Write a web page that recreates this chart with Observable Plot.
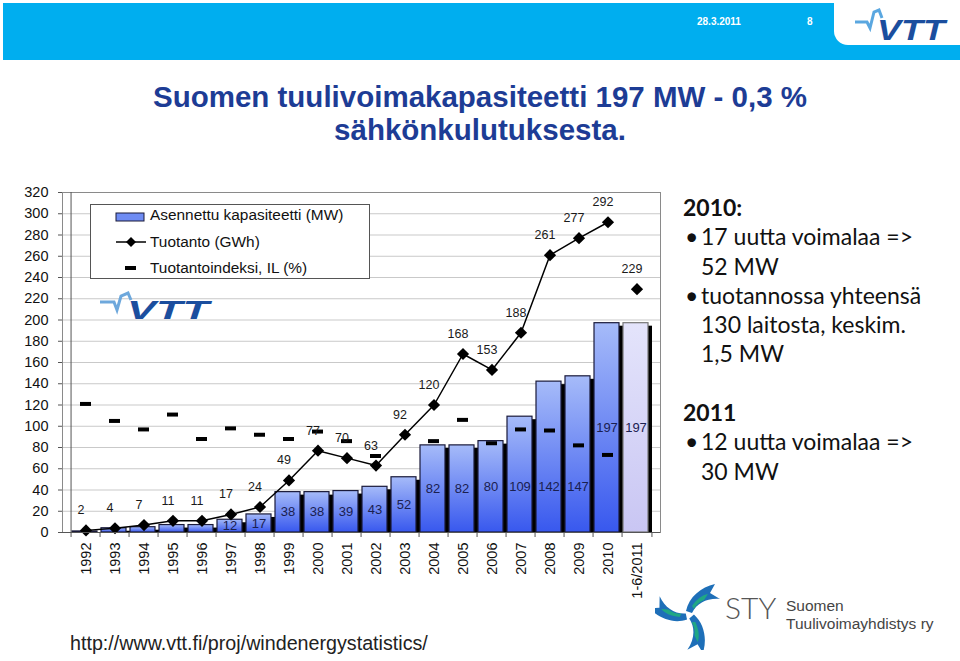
<!DOCTYPE html>
<html><head><meta charset="utf-8">
<script src="https://cdn.jsdelivr.net/npm/d3@7"></script>
<script src="https://cdn.jsdelivr.net/npm/@observablehq/plot@0.6"></script>
<style>
html,body{margin:0;padding:0;background:#fff;}
body{width:960px;height:661px;position:relative;overflow:hidden;font-family:"Liberation Sans",Arial,sans-serif;}
.abs{position:absolute;}
#hdr{left:3px;top:3px;width:957px;height:57px;background:#00aeef;}
#tab{left:834px;top:0;width:126px;height:45px;background:#fff;border-bottom-left-radius:14px;}
#title{left:0;top:80px;width:960px;text-align:center;font-weight:bold;font-size:29.5px;line-height:33px;color:#1d3c95;}
#legend{left:90px;top:204px;width:278px;height:73px;border:1px solid #555;background:#fff;font-size:15.4px;color:#111;}
#legend .row{position:absolute;left:59px;white-space:nowrap;}
#notes{left:683px;top:193px;font-family:Lato,"Open Sans",sans-serif;font-size:23px;line-height:29.3px;color:#111;white-space:nowrap;}
#notes .b{position:relative;padding-left:18px;}
#notes .b::before{content:"•";position:absolute;left:2px;}
#url{left:70px;top:632px;font-size:19.7px;color:#222;white-space:nowrap;}
.sty{position:absolute;left:786px;font-family:'Liberation Sans',Arial,sans-serif;font-size:15.5px;line-height:17px;color:#444;white-space:nowrap;}
</style></head>
<body>
<div id="hdr" class="abs"></div>
<div id="tab" class="abs"></div>
<div class="abs" style="left:697px;top:16px;color:#fff;font-weight:bold;font-size:10px;">28.3.2011</div>
<div class="abs" style="left:807px;top:16px;color:#fff;font-weight:bold;font-size:10px;">8</div>
<svg class="abs" style="left:855px;top:8px" width="100" height="38">
  <path d="M0,14 L12,14 L15,20 L19,4 L24,2 L27,10" fill="none" stroke="#5aa7e0" stroke-width="3"/>
  <text x="22" y="32" font-family="Liberation Sans,Arial" font-weight="bold" font-style="italic" font-size="29" fill="#1b4e9e" textLength="68" lengthAdjust="spacingAndGlyphs">VTT</text>
</svg>
<div id="title" class="abs">Suomen tuulivoimakapasiteetti 197 MW - 0,3 %<br>sähkönkulutuksesta.</div>
<div id="chart" class="abs" style="left:0;top:170px;"></div>
<div id="legend" class="abs">
  <svg class="abs" style="left:24px;top:6px" width="34" height="70">
    <rect x="1" y="2" width="28" height="8" fill="#6f8cf3" stroke="#1a1a3a" stroke-width="1"/>
    <line x1="1" y1="31" x2="31" y2="31" stroke="#000" stroke-width="1.5"/>
    <path d="M16,26 L21,31 L16,36 L11,31 Z" fill="#000"/>
    <line x1="10" y1="57" x2="21" y2="57" stroke="#000" stroke-width="4"/>
  </svg>
  <div class="row" style="top:1px">Asennettu kapasiteetti (MW)</div>
  <div class="row" style="top:28px">Tuotanto (GWh)</div>
  <div class="row" style="top:54px">Tuotantoindeksi, IL (%)</div>
</div>
<svg class="abs" style="left:100px;top:288px" width="120" height="36">
  <path d="M0,14 L14,14 L17,22 L21,8 L28,5 L31,12" fill="none" stroke="#6ea8dc" stroke-width="3"/>
  <text x="27" y="31" font-family="Liberation Sans,Arial" font-weight="bold" font-style="italic" font-size="26" fill="#1b4e9e" textLength="82" lengthAdjust="spacingAndGlyphs">VTT</text>
</svg>
<div id="notes" class="abs">
  <div style="font-weight:bold">2010:</div>
  <div class="b">17 uutta voimalaa =&gt;<br>52 MW</div>
  <div class="b">tuotannossa yhteensä<br>130 laitosta, keskim.<br>1,5 MW</div>
  <div>&nbsp;</div>
  <div style="font-weight:bold">2011</div>
  <div class="b">12 uutta voimalaa =&gt;<br>30 MW</div>
</div>
<div id="url" class="abs">http://www.vtt.fi/proj/windenergystatistics/</div>
<svg class="abs" style="left:655px;top:580px" width="70" height="70">
  <g transform="translate(34,35)">
    <g><path d="M-3,-4 C0,-18 12,-28 26,-31 L21,-22 L31,-16 C18,-17 8,-12 3,-2 Z" fill="#1e6fb8"/><path d="M3,-9 C8,-16 13,-20 19,-21 L15,-15 C10,-13 7,-10 5,-6 Z" fill="#1fa784"/></g>
    <g transform="rotate(120)"><path d="M-3,-4 C0,-18 12,-28 26,-31 L21,-22 L31,-16 C18,-17 8,-12 3,-2 Z" fill="#1e6fb8"/><path d="M3,-9 C8,-16 13,-20 19,-21 L15,-15 C10,-13 7,-10 5,-6 Z" fill="#1fa784"/></g>
    <g transform="rotate(240)"><path d="M-3,-4 C0,-18 12,-28 26,-31 L21,-22 L31,-16 C18,-17 8,-12 3,-2 Z" fill="#1e6fb8"/><path d="M3,-9 C8,-16 13,-20 19,-21 L15,-15 C10,-13 7,-10 5,-6 Z" fill="#1fa784"/></g>
  </g>
</svg>
<div class="abs" style="left:725px;top:589px;font-family:Lato,'Open Sans',sans-serif;font-weight:300;font-size:30px;line-height:36px;color:#555;">STY</div>
<div class="sty" style="top:597px;">Suomen</div>
<div class="sty" style="top:615px;">Tuulivoimayhdistys ry</div>

<script>
const years = ["1992","1993","1994","1995","1996","1997","1998","1999","2000","2001","2002","2003","2004","2005","2006","2007","2008","2009","2010","1-6/2011"];
const capacity = [1,4,5,7,7,12,17,38,38,39,43,52,82,82,86,109,142,147,197,197];
const capacityLabels = [null,null,null,null,null,"12","17","38","38","39","43","52","82","82","80","109","142","147","197","197"];
const production = [2,4,7,11,11,17,24,49,77,70,63,92,120,168,153,188,261,277,292,229];
const productionIndex = [121,105,97,111,88,98,92,88,95,86,72,null,86,106,84,97,96,82,73,null];
const yTicks = d3.range(0, 321, 20);

const rows = years.map((year, i) => ({year, cap: capacity[i], capLabel: capacityLabels[i], prod: production[i], idx: productionIndex[i], partial: i === years.length - 1}));
const full = rows.filter(d => !d.partial);
const part = rows.filter(d => d.partial);
const bw = (670 - 62 - 10) / years.length;

const chart = Plot.plot({
  width: 670, height: 440,
  marginTop: 22, marginBottom: 78, marginLeft: 62, marginRight: 10,
  style: {fontFamily: "'Liberation Sans', Arial, sans-serif", fontSize: "14px", color: "#111", background: "transparent"},
  x: {type: "band", domain: years, padding: 0, label: null},
  y: {domain: [0, 320], label: null},
  marks: [
    Plot.gridY(yTicks, {stroke: "#c9c9c9", strokeOpacity: 1}),
    Plot.frame({stroke: "#8a8a8a"}),
    Plot.barY(rows, {x: "year", y: "cap", fill: "#000", dx: 4, insetTop: 3, insetLeft: 1, insetRight: 3}),
    Plot.barY(full, {x: "year", y: "cap", fill: "url(#barGrad)", stroke: "#1a1a3a", strokeWidth: 1.2, insetLeft: 1, insetRight: 3}),
    Plot.barY(part, {x: "year", y: "cap", fill: "url(#barGrad2)", stroke: "#777", strokeWidth: 1.2, insetLeft: 1, insetRight: 3}),
    Plot.text(rows.filter(d => d.capLabel), {x: "year", y: d => d.cap >= 190 ? d.cap / 2 : Math.min(d.cap / 2, 43), text: "capLabel", fill: "#1a2050", fontSize: 13, dx: -1}),
    Plot.tickY(rows.filter(d => d.idx != null), {x: "year", y: "idx", stroke: "#000", strokeWidth: 4, insetLeft: 9, insetRight: 9}),
    Plot.line(full, {x: "year", y: "prod", stroke: "#000", strokeWidth: 1.5}),
    Plot.dot(rows, {x: "year", y: "prod", symbol: "diamond2", r: 5.5, fill: "#000", stroke: null}),
    Plot.text(rows, {x: "year", y: "prod", text: d => String(d.prod), dy: -20, dx: -5, fill: "#1a1a1a", fontSize: 12.5}),
    Plot.ruleX([years[0]], {dx: -bw / 2, stroke: "#555"}),
    Plot.ruleY([0], {stroke: "#555"}),
    Plot.axisY(yTicks, {tickSize: 4, tickPadding: 10, fontSize: 14.5, stroke: "#555", fill: "#111", label: null}),
    Plot.axisX({tickSize: 5, text: null, dx: -bw / 2, stroke: "#555", label: null}),
    Plot.axisX([years[years.length - 1]], {tickSize: 5, text: null, dx: bw / 2, stroke: "#555", label: null}),
    Plot.axisX({tickSize: 0, tickPadding: 10, tickRotate: -90, fontSize: 14.5, fill: "#111", label: null})
  ]
});

const defs = d3.select(chart).insert("defs", ":first-child");
const g1 = defs.append("linearGradient").attr("id", "barGrad").attr("x1", 0).attr("y1", 0).attr("x2", 0).attr("y2", 1);
g1.append("stop").attr("offset", "0%").attr("stop-color", "#a6bbf9");
g1.append("stop").attr("offset", "100%").attr("stop-color", "#3858ee");
const g2 = defs.append("linearGradient").attr("id", "barGrad2").attr("x1", 0).attr("y1", 0).attr("x2", 0).attr("y2", 1);
g2.append("stop").attr("offset", "0%").attr("stop-color", "#e4e4fb");
g2.append("stop").attr("offset", "100%").attr("stop-color", "#c9c6f3");

document.getElementById("chart").appendChild(chart);
</script>
</body></html>
